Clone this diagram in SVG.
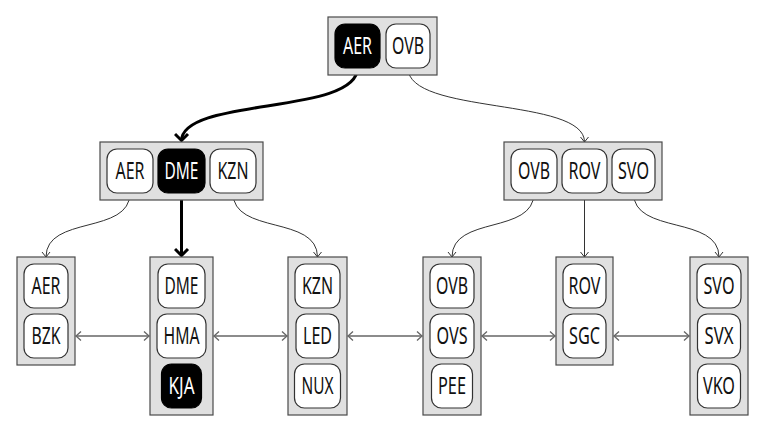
<svg xmlns="http://www.w3.org/2000/svg" width="765" height="433" viewBox="0 0 765 433">
<defs>
<style>
.box{fill:#e0e0e0;stroke:#4a4a4a;stroke-width:1.2}
.key{fill:#fff;stroke:#333;stroke-width:1.2}
.key.on{fill:#000;stroke:#000}
text{font-family:"Noto Sans","DejaVu Sans",sans-serif;font-size:23px;text-anchor:middle;fill:#111}
text.on{fill:#fff}
.lnk{fill:none;stroke:#333;stroke-width:1}
.lnk.hot{stroke:#000;stroke-width:3}
.sib{fill:none;stroke:#666;stroke-width:1.3}
</style>
<marker id="ah" markerUnits="userSpaceOnUse" viewBox="-8 -6 10 12" refX="0" refY="0" markerWidth="10" markerHeight="12" orient="auto">
<path d="M-5,-4 L0,0 L-5,4" fill="none" stroke="#333" stroke-width="1"/>
</marker>
<marker id="ahs" markerUnits="userSpaceOnUse" viewBox="-8 -6 10 12" refX="0" refY="0" markerWidth="10" markerHeight="12" orient="auto-start-reverse">
<path d="M-5,-4.5 L0,0 L-5,4.5" fill="none" stroke="#666" stroke-width="1.3"/>
</marker>
<marker id="ahb" markerUnits="userSpaceOnUse" viewBox="-10 -8 12 16" refX="0" refY="0" markerWidth="12" markerHeight="16" orient="auto">
<path d="M-7,-6.5 L-0.5,0 L-7,6.5" fill="none" stroke="#000" stroke-width="3"/>
</marker>
</defs>
<rect width="765" height="433" fill="#fff"/>

<g id="connectors">
<path class="lnk hot" d="M357.5,68 C357.5,115 181.5,97 181.5,141" marker-end="url(#ahb)"/>
<path class="lnk" d="M408,68 C408,115 584.5,97 584.5,142" marker-end="url(#ah)"/>
<path class="lnk" d="M130,193 C130,235 46,215 46,257" marker-end="url(#ah)"/>
<path class="lnk hot" d="M181.5,193 L181.5,256" marker-end="url(#ahb)"/>
<path class="lnk" d="M233,193 C233,235 317.5,215 317.5,257" marker-end="url(#ah)"/>
<path class="lnk" d="M534,193 C534,235 452,215 452,257" marker-end="url(#ah)"/>
<path class="lnk" d="M584.5,193 L584.5,257" marker-end="url(#ah)"/>
<path class="lnk" d="M633.5,193 C633.5,235 719,215 719,257" marker-end="url(#ah)"/>
<path class="sib" d="M76,336 L149,336" marker-start="url(#ahs)" marker-end="url(#ahs)"/>
<path class="sib" d="M214,336 L287,336" marker-start="url(#ahs)" marker-end="url(#ahs)"/>
<path class="sib" d="M348,336 L422,336" marker-start="url(#ahs)" marker-end="url(#ahs)"/>
<path class="sib" d="M482,336 L555,336" marker-start="url(#ahs)" marker-end="url(#ahs)"/>
<path class="sib" d="M614,336 L689,336" marker-start="url(#ahs)" marker-end="url(#ahs)"/>
</g>

<g id="root">
<rect class="box" x="328" y="17" width="109" height="58"/>
<rect class="key on" x="335" y="24" width="45" height="44" rx="10"/>
<text class="on" x="357.5" y="54.2" textLength="29" lengthAdjust="spacingAndGlyphs">AER</text>
<rect class="key" x="386" y="24" width="44" height="44" rx="10"/>
<text x="408" y="54.2" textLength="32" lengthAdjust="spacingAndGlyphs">OVB</text>
</g>

<g id="inner-left">
<rect class="box" x="100" y="142" width="163" height="58"/>
<rect class="key" x="107" y="149" width="46" height="44" rx="10"/>
<text x="130" y="179.2" textLength="29" lengthAdjust="spacingAndGlyphs">AER</text>
<rect class="key on" x="158" y="149" width="47" height="44" rx="10"/>
<text class="on" x="181.5" y="179.2" textLength="34" lengthAdjust="spacingAndGlyphs">DME</text>
<rect class="key" x="210" y="149" width="46" height="44" rx="10"/>
<text x="233" y="179.2" textLength="31" lengthAdjust="spacingAndGlyphs">KZN</text>
</g>

<g id="inner-right">
<rect class="box" x="504" y="142" width="158" height="58"/>
<rect class="key" x="511" y="149" width="46" height="44" rx="10"/>
<text x="534" y="179.2" textLength="32" lengthAdjust="spacingAndGlyphs">OVB</text>
<rect class="key" x="562" y="149" width="45" height="44" rx="10"/>
<text x="584.5" y="179.2" textLength="32" lengthAdjust="spacingAndGlyphs">ROV</text>
<rect class="key" x="612" y="149" width="43" height="44" rx="10"/>
<text x="633.5" y="179.2" textLength="31" lengthAdjust="spacingAndGlyphs">SVO</text>
</g>

<g id="leaf-1">
<rect class="box" x="17" y="257" width="58" height="108"/>
<rect class="key" x="24" y="264" width="44" height="44" rx="10"/>
<text x="46" y="294.2" textLength="29" lengthAdjust="spacingAndGlyphs">AER</text>
<rect class="key" x="24" y="314" width="44" height="44" rx="10"/>
<text x="46" y="344.2" textLength="29" lengthAdjust="spacingAndGlyphs">BZK</text>
</g>

<g id="leaf-2">
<rect class="box" x="150" y="257" width="63" height="158"/>
<rect class="key" x="158" y="264" width="47" height="44" rx="10"/>
<text x="181.5" y="294.2" textLength="34" lengthAdjust="spacingAndGlyphs">DME</text>
<rect class="key" x="157" y="314" width="49" height="44" rx="10"/>
<text x="181.5" y="344.2" textLength="36" lengthAdjust="spacingAndGlyphs">HMA</text>
<rect class="key on" x="161.5" y="364" width="40" height="44" rx="10"/>
<text class="on" x="181.5" y="394.2" textLength="26" lengthAdjust="spacingAndGlyphs">KJA</text>
</g>

<g id="leaf-3">
<rect class="box" x="288" y="257" width="59" height="158"/>
<rect class="key" x="295" y="264" width="45" height="44" rx="10"/>
<text x="317.5" y="294.2" textLength="31" lengthAdjust="spacingAndGlyphs">KZN</text>
<rect class="key" x="296" y="314" width="43" height="44" rx="10"/>
<text x="317.5" y="344.2" textLength="29" lengthAdjust="spacingAndGlyphs">LED</text>
<rect class="key" x="294.5" y="364" width="46" height="44" rx="10"/>
<text x="317.5" y="394.2" textLength="32" lengthAdjust="spacingAndGlyphs">NUX</text>
</g>

<g id="leaf-4">
<rect class="box" x="423" y="257" width="58" height="158"/>
<rect class="key" x="430" y="264" width="44" height="44" rx="10"/>
<text x="452" y="294.2" textLength="32" lengthAdjust="spacingAndGlyphs">OVB</text>
<rect class="key" x="430" y="314" width="44" height="44" rx="10"/>
<text x="452" y="344.2" textLength="31" lengthAdjust="spacingAndGlyphs">OVS</text>
<rect class="key" x="431.5" y="364" width="41" height="44" rx="10"/>
<text x="452" y="394.2" textLength="28" lengthAdjust="spacingAndGlyphs">PEE</text>
</g>

<g id="leaf-5">
<rect class="box" x="556" y="257" width="57" height="108"/>
<rect class="key" x="563" y="264" width="43" height="44" rx="10"/>
<text x="584.5" y="294.2" textLength="32" lengthAdjust="spacingAndGlyphs">ROV</text>
<rect class="key" x="563" y="314" width="43" height="44" rx="10"/>
<text x="584.5" y="344.2" textLength="31" lengthAdjust="spacingAndGlyphs">SGC</text>
</g>

<g id="leaf-6">
<rect class="box" x="690" y="257" width="58" height="158"/>
<rect class="key" x="697" y="264" width="44" height="44" rx="10"/>
<text x="719" y="294.2" textLength="31" lengthAdjust="spacingAndGlyphs">SVO</text>
<rect class="key" x="697.5" y="314" width="43" height="44" rx="10"/>
<text x="719" y="344.2" textLength="29" lengthAdjust="spacingAndGlyphs">SVX</text>
<rect class="key" x="697.5" y="364" width="43" height="44" rx="10"/>
<text x="719" y="394.2" textLength="32" lengthAdjust="spacingAndGlyphs">VKO</text>
</g>
</svg>
